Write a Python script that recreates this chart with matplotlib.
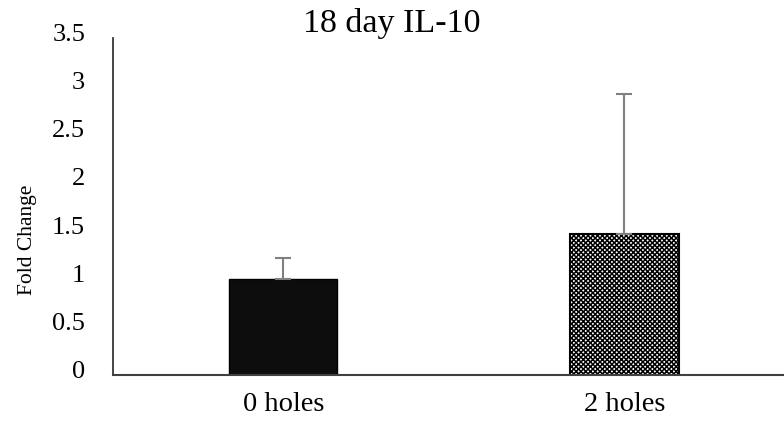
import matplotlib
matplotlib.use("Agg")
import matplotlib.pyplot as plt
import matplotlib.transforms as mtransforms
import numpy as np

CATEGORIES = ["0 holes", "2 holes"]
FOLD_CHANGE = [1.0, 1.46]
ERR_UP = [0.22, 1.46]
YTICKS = [0, 0.5, 1, 1.5, 2, 2.5, 3, 3.5]
YTICKLABELS = ["0", "0.5", "1", "1.5", "2", "2.5", "3", "3.5"]

plt.rcParams["font.family"] = ["Liberation Serif", "DejaVu Serif"]
plt.rcParams["hatch.linewidth"] = 1.1

fig = plt.figure(figsize=(7.84, 4.25), dpi=100)
ax = fig.add_axes([0.144, 0.1176, 0.87, 0.793])

x = np.arange(len(CATEGORIES))
w = 0.317
ax.bar(x[0], FOLD_CHANGE[0], w, color="#0d0d0d", edgecolor="black", lw=1)
ax.bar(x[1], FOLD_CHANGE[1], w, color="white", edgecolor="black", lw=1.5,
       hatch="xxxxxxx")
ax.errorbar(x, FOLD_CHANGE, yerr=[np.zeros(len(x)), ERR_UP], fmt="none",
            ecolor="#808080", elinewidth=1.5, capsize=6, capthick=1.5)

ax.set_xlim(-0.5, 1.5)
ax.set_ylim(0, 3.5)
ax.set_yticks(YTICKS)
ax.set_yticklabels(YTICKLABELS)
ax.set_xticks(x)
ax.set_xticklabels(CATEGORIES)
ax.tick_params(axis="y", length=0, pad=20, labelsize=19)
ax.tick_params(axis="x", length=0, pad=12, labelsize=20.5)

# y labels sit a little above their gridline positions in the original
shift = mtransforms.ScaledTranslation(0, 4 / 72, fig.dpi_scale_trans)
for lab in ax.get_yticklabels():
    lab.set_transform(lab.get_transform() + shift)

for s in ("top", "right"):
    ax.spines[s].set_visible(False)
ax.spines["left"].set_color("#262626")
ax.spines["bottom"].set_color("#404040")
ax.spines["left"].set_linewidth(1.2)
ax.spines["bottom"].set_linewidth(1.5)

ax.set_ylabel("Fold Change", fontsize=15.5)
ax.yaxis.set_label_coords(-0.112, 0.40)
fig.text(0.5, 0.945, "18 day IL-10", ha="center", va="center", fontsize=24.5)

fig.savefig("out.png", dpi=100)
